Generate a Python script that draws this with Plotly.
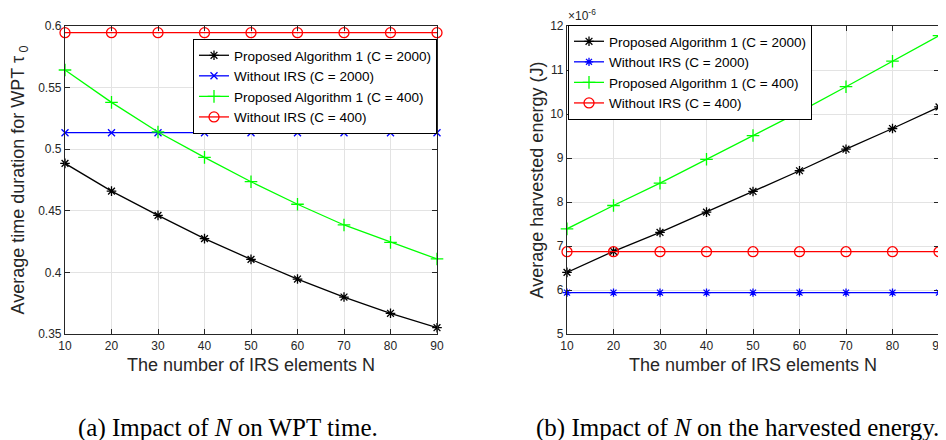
import plotly.graph_objects as go

N = [10, 20, 30, 40, 50, 60, 70, 80, 90]

# (a) average WPT time tau_0
tau_prop_2000 = [0.4885, 0.466, 0.4463, 0.4274, 0.4106, 0.3946, 0.380, 0.3668, 0.3551]
tau_noirs_2000 = [0.5134] * 9
tau_prop_400 = [0.5643, 0.538, 0.514, 0.4934, 0.4736, 0.4553, 0.4385, 0.4244, 0.4109]
tau_noirs_400 = [0.5946] * 9

# (b) harvested energy (x 1e-6 J)
e_prop_2000 = [6.40, 6.88, 7.31, 7.77, 8.24, 8.71, 9.20, 9.67, 10.16]
e_noirs_2000 = [5.94] * 9
e_prop_400 = [7.39, 7.92, 8.43, 8.97, 9.51, 10.05, 10.62, 11.20, 11.78]
e_noirs_400 = [6.87] * 9

names = ["Proposed Algorithm 1 (C = 2000)", "Without IRS (C = 2000)",
         "Proposed Algorithm 1 (C = 400)", "Without IRS (C = 400)"]
colors = ["#000000", "#0000ff", "#00ff00", "#ff0000"]
sym_a = ["asterisk-open", "x-thin-open", "cross-thin-open", "circle-open"]
sym_b = ["asterisk-open", "asterisk-open", "cross-thin-open", "circle-open"]
msize = [8, 7, 9, 10]

FONT = "Liberation Sans, Arial, Helvetica, sans-serif"
SERIF = "Liberation Serif, Times New Roman, serif"
AX = "#262626"

fig = go.Figure()
for i, ys in enumerate([tau_prop_2000, tau_noirs_2000, tau_prop_400, tau_noirs_400]):
    fig.add_trace(go.Scatter(
        x=N, y=ys, name=names[i], mode="lines+markers",
        line=dict(color=colors[i], width=1.3),
        marker=dict(symbol=sym_a[i], size=msize[i], color=colors[i],
                    line=dict(color=colors[i], width=1.3)),
        xaxis="x", yaxis="y", legend="legend", cliponaxis=False))
for i, ys in enumerate([e_prop_2000, e_noirs_2000, e_prop_400, e_noirs_400]):
    fig.add_trace(go.Scatter(
        x=N, y=ys, name=names[i], mode="lines+markers",
        line=dict(color=colors[i], width=1.3),
        marker=dict(symbol=sym_b[i], size=msize[i], color=colors[i],
                    line=dict(color=colors[i], width=1.3)),
        xaxis="x2", yaxis="y2", legend="legend2", cliponaxis=False))

# page body has an 8px margin, so the figure starts at (8, 8) in the window
OFF = 8
W, H = 946 - OFF, 440 - OFF
def px_x(p): return (p - OFF) / W
def px_y(p): return 1 - (p - OFF) / H

axis_common = dict(
    showline=True, mirror="ticks", linecolor=AX, linewidth=1.2,
    ticks="inside", ticklen=5, tickcolor=AX,
    showgrid=True, gridcolor="#e3e3e3", gridwidth=1, zeroline=False,
    tickfont=dict(family=FONT, size=12, color=AX), automargin=False,
)
xt = dict(title=dict(text="The number of IRS elements N", font=dict(family=FONT, size=18, color=AX), standoff=6),
          range=[10, 90], tickvals=N, **axis_common)

fig.update_layout(
    width=W, height=H, margin=dict(l=0, r=0, t=0, b=0),
    paper_bgcolor="white", plot_bgcolor="white",
    font=dict(family=FONT),
    xaxis=dict(domain=[px_x(65), px_x(437)], anchor="y", **xt),
    yaxis=dict(domain=[px_y(334), px_y(26)], anchor="x", range=[0.35, 0.6],
               tickvals=[0.35, 0.4, 0.45, 0.5, 0.55, 0.6],
               ticktext=["0.35", "0.4", "0.45", "0.5", "0.55", "0.6"],
               title=dict(text="Average time duration for WPT τ<sub> 0</sub>",
                          font=dict(family=FONT, size=18, color=AX), standoff=10),
               **axis_common),
    xaxis2=dict(domain=[px_x(567), px_x(939)], anchor="y2", **xt),
    yaxis2=dict(domain=[px_y(334), px_y(26)], anchor="x2", range=[5, 12],
                tickvals=[5, 6, 7, 8, 9, 10, 11, 12],
                title=dict(text="Average harvested energy (J)",
                           font=dict(family=FONT, size=18, color=AX), standoff=1),
                **axis_common),
    legend=dict(x=px_x(437), y=px_y(39), xanchor="right", yanchor="top",
                bgcolor="white", bordercolor="#000000", borderwidth=1,
                font=dict(family=FONT, size=13.5, color="#000000"),
                tracegroupgap=0, itemwidth=30),
    legend2=dict(x=px_x(568), y=px_y(25), xanchor="left", yanchor="top",
                 bgcolor="white", bordercolor="#000000", borderwidth=1,
                 font=dict(family=FONT, size=13.5, color="#000000"),
                 tracegroupgap=0, itemwidth=30),
    annotations=[
        dict(text="×10<sup>-6</sup>", xref="paper", yref="paper",
             x=px_x(566), y=px_y(25), xanchor="left", yanchor="bottom",
             showarrow=False, font=dict(family=FONT, size=12, color=AX)),
        dict(text="(a) Impact of <i>N</i> on WPT time.", xref="paper", yref="paper",
             x=px_x(228), y=px_y(428), xanchor="center", yanchor="middle",
             showarrow=False, font=dict(family=SERIF, size=25, color="#000000")),
        dict(text="(b) Impact of <i>N</i> on the harvested energy.", xref="paper", yref="paper",
             x=px_x(737), y=px_y(428), xanchor="center", yanchor="middle",
             showarrow=False, font=dict(family=SERIF, size=25, color="#000000")),
    ],
)

fig.write_html("out.html")
